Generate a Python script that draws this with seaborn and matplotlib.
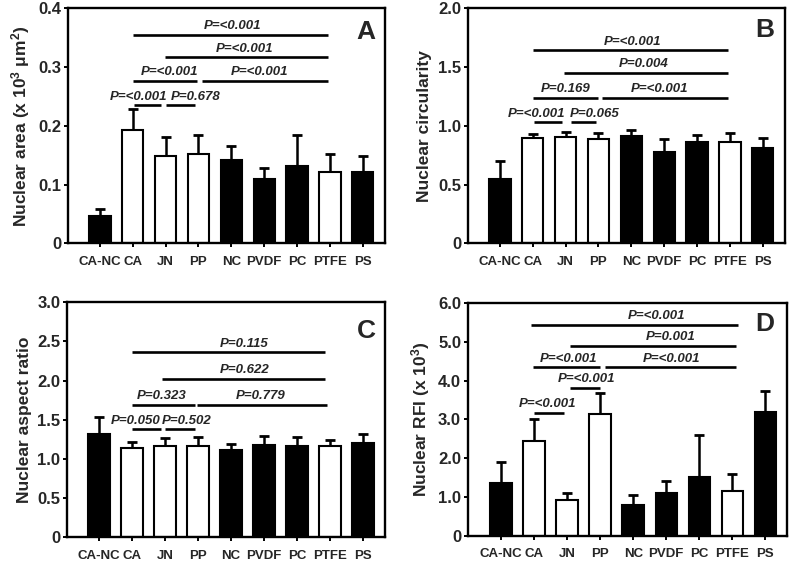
import matplotlib
matplotlib.use("Agg")
import matplotlib.pyplot as plt
import seaborn as sns
import numpy as np
import pandas as pd

# ---------------- data ----------------
categories = ["CA-NC", "CA", "JN", "PP", "NC", "PVDF", "PC", "PTFE", "PS"]
bar_colors = ["black", "white", "white", "white", "black", "black", "black", "white", "black"]

area_mean = [0.047, 0.193, 0.149, 0.152, 0.141, 0.109, 0.132, 0.122, 0.121]
area_sd = [0.011, 0.036, 0.032, 0.033, 0.025, 0.020, 0.052, 0.030, 0.027]

circ_mean = [0.548, 0.899, 0.905, 0.888, 0.913, 0.780, 0.860, 0.865, 0.809]
circ_sd = [0.155, 0.029, 0.045, 0.054, 0.052, 0.108, 0.062, 0.071, 0.085]

aspect_mean = [1.32, 1.137, 1.17, 1.16, 1.11, 1.176, 1.17, 1.163, 1.20]
aspect_sd = [0.22, 0.078, 0.096, 0.12, 0.08, 0.114, 0.105, 0.077, 0.113]

rfi_mean = [1.376, 2.45, 0.93, 3.13, 0.79, 1.11, 1.52, 1.15, 3.19]
rfi_sd = [0.534, 0.57, 0.17, 0.55, 0.26, 0.30, 1.07, 0.44, 0.55]

area_yticks = [0, 0.1, 0.2, 0.3, 0.4]
area_yticklabels = ["0", "0.1", "0.2", "0.3", "0.4"]
circ_yticks = [0, 0.5, 1.0, 1.5, 2.0]
circ_yticklabels = ["0", "0.5", "1.0", "1.5", "2.0"]
aspect_yticks = [0, 0.5, 1.0, 1.5, 2.0, 2.5, 3.0]
aspect_yticklabels = ["0", "0.5", "1.0", "1.5", "2.0", "2.5", "3.0"]
rfi_yticks = [0, 1, 2, 3, 4, 5, 6]
rfi_yticklabels = ["0", "1.0", "2.0", "3.0", "4.0", "5.0", "6.0"]

# significance brackets: (x start, x end, y, label, label x)
area_sig = [
    (1.0, 6.95, 0.355, "P=<0.001", 4.05),
    (1.97, 6.95, 0.317, "P=<0.001", 4.40),
    (1.0, 2.97, 0.277, "P=<0.001", 2.13),
    (3.12, 6.95, 0.277, "P=<0.001", 4.85),
    (1.05, 1.87, 0.235, "P=<0.001", 1.18),
    (2.0, 2.9, 0.235, "P=0.678", 2.92),
]
circ_sig = [
    (1.0, 6.95, 1.645, "P=<0.001", 4.05),
    (1.95, 6.95, 1.452, "P=0.004", 4.38),
    (1.0, 3.0, 1.240, "P=0.169", 2.0),
    (3.12, 6.95, 1.240, "P=<0.001", 4.85),
    (1.05, 1.9, 1.030, "P=<0.001", 1.10),
    (2.15, 2.92, 1.030, "P=0.065", 2.88),
]
aspect_sig = [
    (1.0, 6.85, 2.36, "P=0.115", 4.4),
    (1.9, 6.85, 2.02, "P=0.622", 4.4),
    (1.0, 2.9, 1.69, "P=0.323", 1.88),
    (2.97, 6.9, 1.69, "P=0.779", 4.9),
    (1.0, 1.87, 1.375, "P=0.050", 1.10),
    (2.0, 2.9, 1.375, "P=0.502", 2.65),
]
rfi_sig = [
    (0.91, 7.17, 5.44, "P=<0.001", 4.7),
    (2.10, 7.10, 4.90, "P=0.001", 5.12),
    (0.98, 3.0, 4.34, "P=<0.001", 2.05),
    (3.15, 7.10, 4.34, "P=<0.001", 5.15),
    (2.10, 3.0, 3.81, "P=<0.001", 2.6),
    (1.01, 1.92, 3.17, "P=<0.001", 1.4),
]

# ---------------- style ----------------
sns.set_style("ticks")
plt.rcParams["font.family"] = ["Liberation Sans", "DejaVu Sans"]
plt.rcParams["font.weight"] = "bold"
plt.rcParams["mathtext.fontset"] = "custom"
plt.rcParams["mathtext.rm"] = "Liberation Sans:bold"
plt.rcParams["mathtext.it"] = "Liberation Sans:bold:italic"
plt.rcParams["mathtext.bf"] = "Liberation Sans:bold"
plt.rcParams["mathtext.default"] = "rm"

fig = plt.figure(figsize=(8.0, 5.63), dpi=100)

panels = [
    dict(rect=[0.085, 0.568, 0.396, 0.417], mean=area_mean, sd=area_sd, ylim=(0, 0.4),
         yticks=area_yticks, yticklabels=area_yticklabels,
         ylabel="Nuclear area (x 10$^{3}$ μm$^{2}$)", sig=area_sig,
         letter="A", letter_xy=(8.1, 0.36), xlim=(-0.97, 8.67)),
    dict(rect=[0.585, 0.568, 0.396, 0.417], mean=circ_mean, sd=circ_sd, ylim=(0, 2.0),
         yticks=circ_yticks, yticklabels=circ_yticklabels,
         ylabel="Nuclear circularity", sig=circ_sig,
         letter="B", letter_xy=(8.05, 1.815), xlim=(-0.97, 8.67)),
    dict(rect=[0.084, 0.046, 0.3975, 0.417], mean=aspect_mean, sd=aspect_sd, ylim=(0, 3.0),
         yticks=aspect_yticks, yticklabels=aspect_yticklabels,
         ylabel="Nuclear aspect ratio", sig=aspect_sig,
         letter="C", letter_xy=(8.1, 2.64), xlim=(-0.97, 8.67)),
    dict(rect=[0.585, 0.048, 0.399, 0.414], mean=rfi_mean, sd=rfi_sd, ylim=(0, 6.0),
         yticks=rfi_yticks, yticklabels=rfi_yticklabels,
         ylabel="Nuclear RFI (x 10$^{3}$)", sig=rfi_sig,
         letter="D", letter_xy=(7.98, 5.45), xlim=(-1.0, 8.66)),
]

for p in panels:
    ax = fig.add_axes(p["rect"])
    df = pd.DataFrame({"group": categories, "value": p["mean"]})
    sns.barplot(data=df, x="group", y="value", hue="group", order=categories,
                hue_order=categories, palette=dict(zip(categories, bar_colors)),
                legend=False, errorbar=None, width=0.65, edgecolor="black",
                linewidth=1.5, ax=ax, zorder=2)
    xs = np.arange(len(categories))
    ax.errorbar(xs, p["mean"], yerr=[np.zeros(len(xs)), p["sd"]], fmt="none",
                ecolor="black", elinewidth=1.8, capsize=3.5, capthick=2.0, zorder=1)
    ax.set_xlim(*p["xlim"])
    ax.set_ylim(*p["ylim"])
    ax.set_yticks(p["yticks"])
    ax.set_yticklabels(p["yticklabels"], fontsize=12, fontweight="bold")
    ax.set_xticks(xs)
    ax.set_xticklabels(categories, fontsize=9.5, fontweight="bold")
    ax.set_xlabel("")
    ax.set_ylabel(p["ylabel"], fontsize=12.5, fontweight="bold", labelpad=4)
    for s in ax.spines.values():
        s.set_visible(True)
        s.set_linewidth(1.7)
        s.set_color("black")
    ax.tick_params(axis="both", direction="out", length=3, width=1.4, color="black")
    ax.tick_params(axis="x", pad=6)
    ax.tick_params(axis="y", pad=2)
    for x0, x1, y, lab, tx in p["sig"]:
        ax.plot([x0, x1], [y, y], color="black", lw=1.9, solid_capstyle="butt", zorder=3)
        ax.annotate(lab, xy=(tx, y), xytext=(0, 4), textcoords="offset points",
                    ha="center", va="baseline", fontsize=9.5, fontweight="bold",
                    fontstyle="italic")
    ax.text(p["letter_xy"][0], p["letter_xy"][1], p["letter"], ha="center", va="center",
            fontsize=19, fontweight="bold")

fig.savefig("out.png", dpi=100)
